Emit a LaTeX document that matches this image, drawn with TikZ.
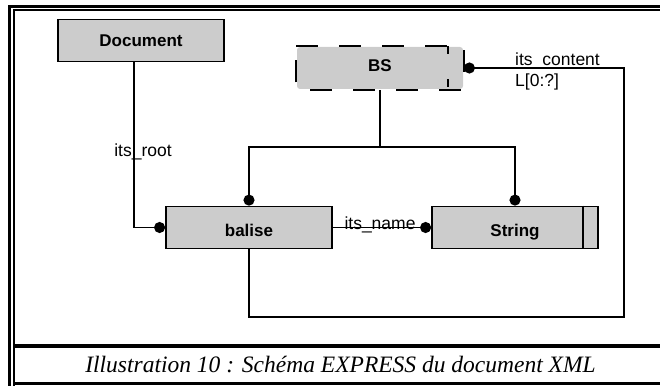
\documentclass[tikz,border=0pt]{standalone}
\usepackage{fontspec}
\setmainfont{Liberation Serif}
\setsansfont{Liberation Sans}
\usetikzlibrary{arrows.meta}
\definecolor{boxgray}{RGB}{204,204,204}
\begin{document}
\begin{tikzpicture}[x=1pt,y=-1pt,
  entity/.style={draw=black, line width=1.8pt, fill=boxgray,
    minimum width=166pt, minimum height=42pt, inner sep=0pt,
    font=\sffamily\bfseries\fontsize{17}{17}\selectfont,
    text height=12.4pt, text depth=0pt},
  link/.style={line width=1.8pt},
  rel/.style={link, -{Circle[length=11pt,width=11pt]}},
  lbl/.style={font=\sffamily\fontsize{17.5}{17.5}\selectfont, inner sep=0pt},
  dashborder/.style={line width=1.8pt, dash pattern=on 22pt off 21pt}]
\useasboundingbox (0,0) rectangle (660,385);

% double frame and caption rules
\begin{scope}
  \clip (0,0) rectangle (660,385);
  \draw[line width=3pt] (9.5,400) -- (9.5,6.5) -- (680,6.5);
  \draw[line width=2pt] (13.5,400) -- (13.5,10.2) -- (680,10.2);
  \draw[line width=3.3pt] (13.5,346) -- (680,346);
  \draw[line width=3pt] (13.5,383.5) -- (680,383.5);
\end{scope}

% entities
\node[entity] (doc) at (141,40.5) {Document};
\node[entity, draw=none, rounded corners=3pt, text height=7.4pt] (bs) at (380,68) {BS};
\node[entity, text height=18.8pt] (balise) at (249,227.5) {balise};
\node[entity, text height=18.8pt] (string) at (515,227.5) {String};

% abstract supertype border
\draw[dashborder] (bs.north west) -- (bs.north east) -- (bs.south east) -- (bs.south west) -- cycle;
\draw[line width=1.8pt, dash pattern=on 8pt off 25pt] ([xshift=-16pt]bs.north east) -- ([xshift=-16pt]bs.south east);
% simple type side bar
\draw[link] ([xshift=-16pt]string.north east) -- ([xshift=-16pt]string.south east);

% bend points
\coordinate (rootbend) at (134,227.5);
\coordinate (fork) at (380,147);
\coordinate (loopcorner) at (624,317);

% relations
\draw[rel] (rootbend |- doc.south) -- (rootbend) -- (balise.west);
\draw[rel] (bs.south) -- (fork) -| (balise.north);
\draw[rel] (fork) -| (string.north);
\draw[rel] (balise.east) -- (string.west);
\draw[link, {Circle[length=11pt,width=11pt]}-] (bs.east) -- (bs.east -| loopcorner) -- (loopcorner) -- (balise.south |- loopcorner) -- (balise.south);

% attribute labels
\node[lbl, anchor=base] (rootlbl) at (143,156.5) {its\_root};
\node[lbl, anchor=base west] (contentlbl) at (515,66) {its\_content};
\node[lbl, anchor=base west] (cardlbl) at (515,87) {L[0:?]};
\node[lbl, anchor=base] (namelbl) at (380,229) {its\_name};

% caption
\node[font=\rmfamily\itshape\fontsize{23.5}{23.5}\selectfont, anchor=base, inner sep=0pt] (caption) at (340.5,372.3) {Illustration 10 : Schéma EXPRESS du document XML};
\end{tikzpicture}
\end{document}
